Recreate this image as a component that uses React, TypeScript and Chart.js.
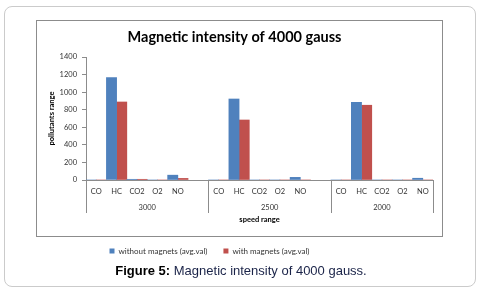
import React, { useEffect, useRef } from "react";
import { Chart, registerables } from "chart.js";

Chart.register(...registerables);

// ---- data ----
const chartTitle = "Magnetic intensity of 4000 gauss";
const categories = ["CO", "HC", "CO2", "O2", "NO", "", "CO", "HC", "CO2", "O2", "NO", "", "CO", "HC", "CO2", "O2", "NO"];
const groupLabels = ["3000", "2500", "2000"];
const groupBounds = [0, 6, 12, 17];
const withoutMagnets = [0, 1165, 8, 0, 55, null, 0, 922, 0, 0, 30, null, 0, 884, 0, 0, 20];
const withMagnets = [0, 888, 8, 0, 18, null, 0, 683, 0, 0, 0, null, 0, 851, 0, 0, 0];
const seriesNames = ["without magnets (avg.val)", "with magnets (avg.val)"];
const yTitle = "pollutants range";
const xTitle = "speed range";
const yMax = 1400;
const yStep = 200;

const BLUE = "#4F81BD";
const RED = "#C0504D";
const AXIS = "#8c8c8c";
const FONT = "Lato";
const LEGEND_SHIFT = -25;

export default function App() {
  const ref = useRef<HTMLCanvasElement | null>(null);

  useEffect(() => {
    if (!ref.current) return;
    const framePlugin = {
      id: "frame",
      beforeDraw(chart: any) {
        const ctx = chart.ctx;
        ctx.save();
        ctx.fillStyle = "#fff";
        ctx.fillRect(0, 0, chart.width, chart.height);
        ctx.strokeStyle = AXIS;
        ctx.lineWidth = 1;
        ctx.strokeRect(0.5, 0.5, chart.width - 1, 216);
        ctx.restore();
      },
      afterDraw(chart: any) {
        const x = chart.scales.x;
        const ctx = chart.ctx;
        ctx.save();
        ctx.strokeStyle = AXIS;
        ctx.lineWidth = 1;
        groupBounds.forEach((b) => {
          const px = Math.round(x.getPixelForValue(b - 0.5)) + 0.5;
          ctx.beginPath();
          ctx.moveTo(px, x.top);
          ctx.lineTo(px, x.top + 33);
          ctx.stroke();
        });
        ctx.restore();
      },
    };
    const legendShift = {
      id: "legendShift",
      afterLayout(chart: any) {
        const l = chart.legend;
        if (l) {
          l.left += LEGEND_SHIFT;
          l.right += LEGEND_SHIFT;
        }
      },
    };
    const groupCenters = groupLabels.map((_, i) => (groupBounds[i] + groupBounds[i + 1]) / 2 - 0.5);

    const chart = new Chart(ref.current, {
      type: "bar",
      data: {
        labels: categories,
        datasets: [
          { label: seriesNames[0], data: withoutMagnets as any, backgroundColor: BLUE, borderWidth: 0, categoryPercentage: 1, barPercentage: 1, xAxisID: "x" },
          { label: seriesNames[1], data: withMagnets as any, backgroundColor: RED, borderWidth: 0, categoryPercentage: 1, barPercentage: 1, xAxisID: "x" },
        ],
      },
      options: {
        responsive: false,
        animation: false,
        layout: { padding: { left: 0, right: 10, top: 0, bottom: 0 } },
        plugins: {
          title: {
            display: true,
            text: chartTitle,
            color: "#000",
            font: { family: FONT, weight: "bold", size: 14.5 },
            padding: { top: 8.3, bottom: 11.3 },
          },
          legend: {
            position: "bottom",
            labels: {
              boxWidth: 5,
              boxHeight: 5,
              padding: 16,
              color: "#333",
              font: { family: FONT, size: 8 },
            },
          },
          tooltip: { enabled: false },
        },
        scales: {
          y: {
            min: 0,
            max: yMax,
            ticks: { stepSize: yStep, color: "#333", font: { family: FONT, size: 7.5 }, padding: 5, callback: (v: any) => String(v) },
            grid: { drawOnChartArea: false, drawTicks: true, tickLength: 4, color: AXIS },
            border: { display: true, color: AXIS },
            title: { display: true, text: yTitle, color: "#000", font: { family: FONT, weight: "bold", size: 7.5 }, padding: { top: 11.5, bottom: 0 } },
            afterFit(s: any) { s.width = 50; },
          },
          x: {
            position: "bottom",
            ticks: { color: "#333", font: { family: FONT, size: 7.5 }, padding: 7, maxRotation: 0, autoSkip: false },
            grid: { drawOnChartArea: false, drawTicks: false },
            border: { display: true, color: AXIS },
            afterFit(s: any) { s.height = 20; },
          },
          x2: {
            type: "linear",
            position: "bottom",
            offset: false,
            min: -0.5,
            max: categories.length - 0.5,
            afterBuildTicks(s: any) { s.ticks = groupCenters.map((v) => ({ value: v })); },
            ticks: {
              color: "#333",
              font: { family: FONT, size: 7.5 },
              padding: 3,
              autoSkip: false,
              maxRotation: 0,
              callback: (_v: any, i: number) => groupLabels[i],
            },
            grid: { display: false, drawTicks: false, offset: false },
            border: { display: false },
            title: { display: true, text: xTitle, color: "#000", font: { family: FONT, weight: "bold", size: 7.5 }, padding: { top: 0, bottom: 6.5 } },
            afterFit(s: any) { s.height = 31; },
          },
        },
      } as any,
      plugins: [framePlugin, legendShift],
    });
    return () => chart.destroy();
  }, []);

  return (
    <div style={{ position: "absolute", left: 0, top: 0, width: 482, height: 296, background: "#fff", overflow: "hidden" }}>
      <div
        style={{
          position: "absolute",
          left: 4,
          top: 6,
          width: 472,
          height: 281,
          boxSizing: "border-box",
          border: "1px solid #cbcbcb",
          borderRadius: 8,
        }}
      />
      <canvas ref={ref} width={407} height={245} style={{ position: "absolute", left: 36, top: 20, width: 407, height: 245 }} />
      <div
        style={{
          position: "absolute",
          left: 0,
          top: 263,
          width: 482,
          textAlign: "center",
          fontFamily: "'Liberation Sans', Arial, sans-serif",
          fontSize: 13,
          lineHeight: "16px",
          whiteSpace: "nowrap",
        }}
      >
        <b style={{ color: "#000" }}>Figure 5:</b>
        <span style={{ color: "#1a2348" }}> Magnetic intensity of 4000 gauss.</span>
      </div>
    </div>
  );
}
